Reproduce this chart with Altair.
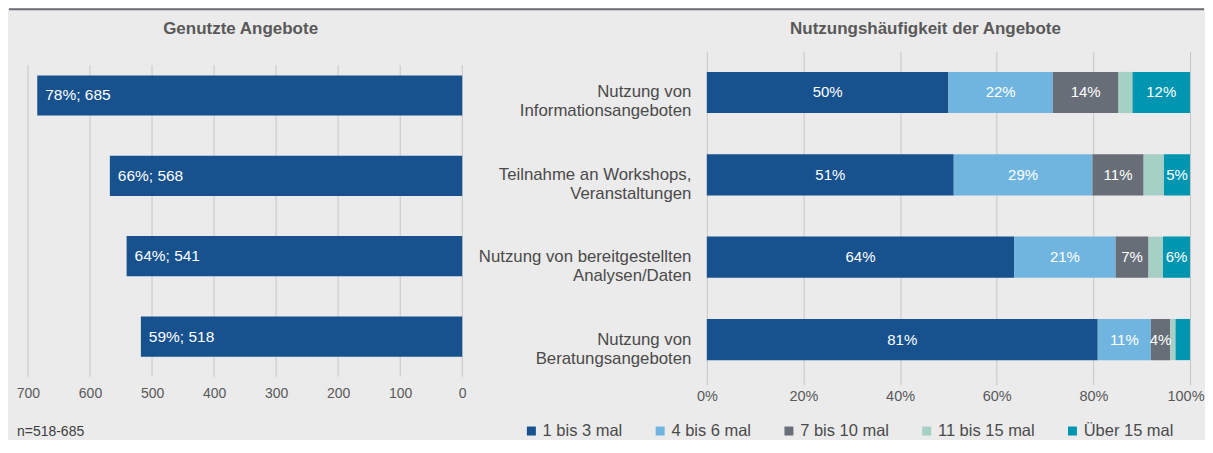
import altair as alt
import pandas as pd

FONT = "Liberation Sans"

# ---------------- data ----------------
categories = [
    "Nutzung von|Informationsangeboten",
    "Teilnahme an Workshops,|Veranstaltungen",
    "Nutzung von bereitgestellten|Analysen/Daten",
    "Nutzung von|Beratungsangeboten",
]
used_n = [685, 568, 541, 518]
used_pct = [78, 66, 64, 59]
left_ticks = [0, 100, 200, 300, 400, 500, 600, 700]

series = ["1 bis 3 mal", "4 bis 6 mal", "7 bis 10 mal", "11 bis 15 mal", "Über 15 mal"]
colors = ["#17518e", "#70b5e0", "#676e78", "#a6cfc6", "#0096b1"]
freq_1_3 = [50.0, 51.1, 63.6, 80.9]
freq_4_6 = [21.6, 28.7, 21.0, 11.0]
freq_7_10 = [13.6, 10.6, 6.8, 4.0]
freq_11_15 = [2.9, 4.2, 3.0, 1.1]
freq_15p = [11.9, 5.4, 5.6, 3.0]
freq_labels = [
    ["50%", "22%", "14%", "", "12%"],
    ["51%", "29%", "11%", "", "5%"],
    ["64%", "21%", "7%", "", "6%"],
    ["81%", "11%", "4%", "", ""],
]
right_ticks = [0, 20, 40, 60, 80, 100]
title_left = "Genutzte Angebote"
title_right = "Nutzungshäufigkeit der Angebote"
note = "n=518-685"

# ---------------- tables ----------------
left_df = pd.DataFrame({"cat": categories, "n": used_n, "pct": used_pct})

rows = []
all_series = [freq_1_3, freq_4_6, freq_7_10, freq_11_15, freq_15p]
for ci, cat in enumerate(categories):
    for si, s in enumerate(series):
        rows.append({"cat": cat, "series": s, "order": si,
                     "value": all_series[si][ci], "label": freq_labels[ci][si]})
right_df = pd.DataFrame(rows)

GRID = "#c6c6c6"
AX = "#595959"


def title_mark(text, xpos):
    return alt.Chart(pd.DataFrame({"t": [text]})).mark_text(
        align="center", baseline="middle", fontSize=17, font=FONT,
        fontWeight="bold", color=AX
    ).encode(x=alt.value(xpos), y=alt.value(-22), text="t:N")


# ---------------- left chart ----------------
ly = alt.Y("cat:N", sort=categories, axis=None,
           scale=alt.Scale(paddingInner=0.5, paddingOuter=0.3))
lx_scale = alt.Scale(domain=[0, 700], reverse=True, nice=False, zero=True)

left_grid = alt.Chart(pd.DataFrame({"t": left_ticks})).mark_rule(
    color=GRID, strokeWidth=1
).encode(
    x=alt.X("t:Q", scale=lx_scale, title=None,
            axis=alt.Axis(values=left_ticks, grid=False, ticks=False, domain=False,
                          labelFlush=False, labelPadding=6, labelFontSize=14,
                          labelColor=AX, labelFont=FONT)),
    y=alt.value(14), y2=alt.value(326),
)

left_bars = alt.Chart(left_df).mark_bar(color="#17518e").encode(
    x=alt.X("n:Q", scale=lx_scale), y=ly
)

left_labels = alt.Chart(left_df).transform_calculate(
    lab="datum.pct + '%; ' + datum.n"
).mark_text(color="white", fontSize=15.5, font=FONT, align="left", baseline="middle", dx=8).encode(
    x=alt.X("n:Q", scale=lx_scale), y=ly, text="lab:N"
)

top_line = alt.Chart(pd.DataFrame({"a": [0]})).mark_rule(color="#6a6e73", strokeWidth=2).encode(
    x=alt.value(-19), x2=alt.value(1178), y=alt.value(-42)
)

foot = alt.Chart(pd.DataFrame({"note": [note]})).mark_text(
    align="left", baseline="middle", fontSize=14, font=FONT, color="#404040"
).encode(x=alt.value(-11), y=alt.value(381), text="note:N")

left = alt.layer(left_grid, left_bars, left_labels, top_line, foot,
                 title_mark(title_left, 213)).properties(width=435, height=330)

# ---------------- right chart ----------------
ry = alt.Y("cat:N", sort=categories, title=None,
           scale=alt.Scale(paddingInner=0.5, paddingOuter=0.25),
           axis=alt.Axis(labelExpr="split(datum.label, '|')", labelFontSize=16.8,
                         labelFont=FONT, labelColor="#4a4a4a", labelLineHeight=19,
                         labelPadding=16, ticks=False, domain=False, labelLimit=400))

rbase = alt.Chart(right_df).transform_stack(
    stack="value", groupby=["cat"], as_=["x0", "x1"], sort=[alt.SortField("order")]
).transform_calculate(xm="(datum.x0 + datum.x1) / 2")

rx_scale = alt.Scale(domain=[0, 100], nice=False)

right_bars = rbase.mark_bar().encode(
    y=ry,
    x=alt.X("x0:Q", scale=rx_scale, title=None,
            axis=alt.Axis(values=right_ticks, labelExpr="datum.value + '%'", grid=True,
                          gridColor=GRID, tickColor=GRID, tickSize=4, domain=False,
                          labelFlush=False, labelPadding=5, labelFontSize=14.5,
                          labelColor=AX, labelFont=FONT,
                          labelAlign={"condition": {"test": "datum.value == 100", "value": "right"},
                                      "value": "center"},
                          labelOffset={"condition": {"test": "datum.value == 100", "value": 14},
                                       "value": 0})),
    x2="x1:Q",
    color=alt.Color("series:N", sort=series,
                    scale=alt.Scale(domain=series, range=colors),
                    legend=alt.Legend(title=None, orient="none", direction="horizontal",
                                      legendX=496, legendY=372, symbolType="square",
                                      symbolSize=81, symbolStrokeWidth=0, labelFontSize=16.5,
                                      labelFont=FONT, labelColor="#4a4a4a", labelOffset=3,
                                      columnPadding=29, padding=0)),
    order=alt.Order("order:Q"),
)

right_text = rbase.mark_text(color="white", fontSize=15, font=FONT, baseline="middle").encode(
    y=ry, x=alt.X("xm:Q", scale=rx_scale), text="label:N"
)

right = alt.layer(right_bars, right_text, title_mark(title_right, 219)).properties(
    width=484, height=330
)

chart = alt.hconcat(left, right, spacing=245, bounds="flush").configure(
    background="#ebebeb",
    padding={"left": 0, "top": 0, "right": 0, "bottom": 0},
    font=FONT,
).configure_view(stroke=None)

chart.save("out.html", embed_options={"renderer": "svg", "actions": False})
